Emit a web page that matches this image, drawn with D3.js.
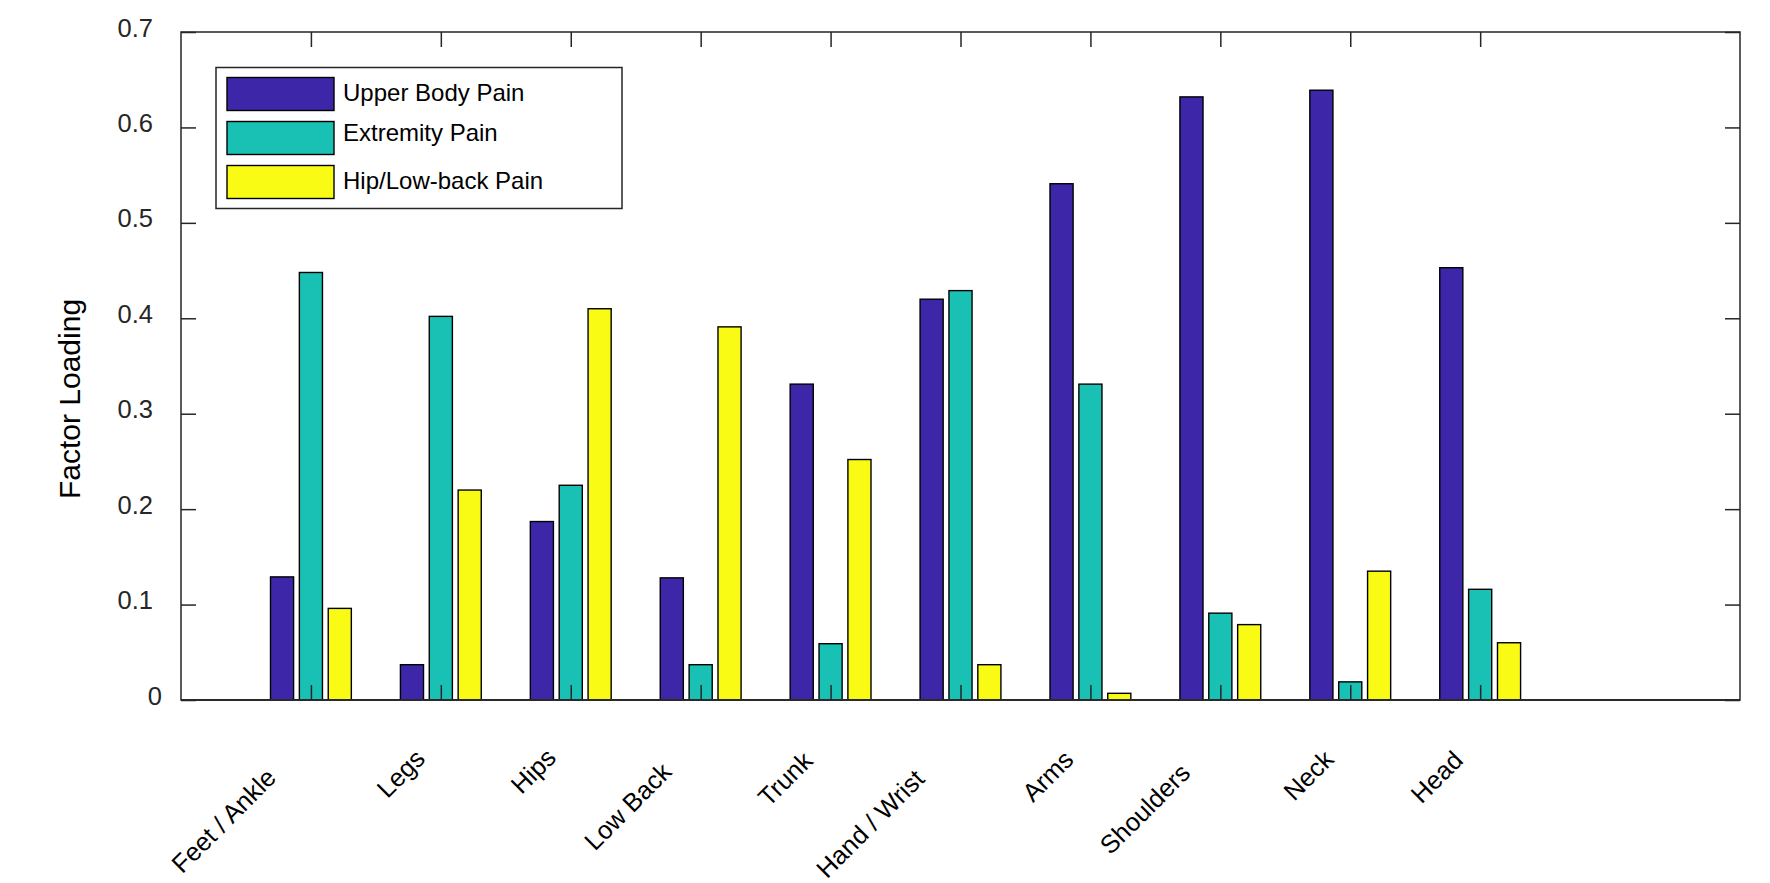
<!DOCTYPE html>
<html>
<head>
<meta charset="utf-8">
<script src="https://cdn.jsdelivr.net/npm/d3@7"></script>
<style>
  body { margin: 0; background: #fff; }
  svg { display: block; font-family: "Liberation Sans", Arial, Helvetica, sans-serif; }
</style>
</head>
<body>
<svg id="chart" width="1770" height="883"></svg>
<script>
// body regions along the x axis
const categories = ['Feet / Ankle', 'Legs', 'Hips', 'Low Back', 'Trunk', 'Hand / Wrist', 'Arms', 'Shoulders', 'Neck', 'Head'];
const seriesNames = ['Upper Body Pain', 'Extremity Pain', 'Hip/Low-back Pain'];
const seriesColors = ['#3e26a8', '#19c0b4', '#f9fb15'];

// factor loadings, one array per factor
const upperBody  = [0.129, 0.037, 0.187, 0.128, 0.331, 0.420, 0.541, 0.632, 0.639, 0.453];
const extremity  = [0.448, 0.402, 0.225, 0.037, 0.059, 0.429, 0.331, 0.091, 0.019, 0.116];
const hipLowBack = [0.096, 0.220, 0.410, 0.391, 0.252, 0.037, 0.007, 0.079, 0.135, 0.060];

const yTicks = [0, 0.1, 0.2, 0.3, 0.4, 0.5, 0.6, 0.7];
const yTickLabels = ['0', '0.1', '0.2', '0.3', '0.4', '0.5', '0.6', '0.7'];

const size = { width: 1770, height: 883 };
const plot = { left: 181, right: 1740, top: 32, bottom: 700 };
const axisColor = '#262626';
const tickLen = 15;

const svg = d3.select('#chart');

const x = d3.scaleLinear().domain([0, 12]).range([plot.left, plot.right]);
const y = d3.scaleLinear().domain([0, 0.7]).range([plot.bottom, plot.top]);

// grouped bars like matlab: group width 2/3 of a slot, bars 0.8 of their share
const unit = x(1) - x(0);
const groupW = Math.min(0.8, 3 / 4.5) * unit;
const inner = d3.scaleBand()
    .domain(d3.range(seriesNames.length))
    .range([-groupW / 2, groupW / 2])
    .paddingInner(0.2)
    .paddingOuter(0.1);

const rows = categories.map((c, i) => ({
    name: c,
    pos: i + 1,
    values: [upperBody[i], extremity[i], hipLowBack[i]]
}));

const groups = svg.append('g').selectAll('g')
    .data(rows)
    .enter()
    .append('g')
    .attr('transform', d => `translate(${x(d.pos)},0)`);

groups.selectAll('rect')
    .data(d => d.values)
    .enter()
    .append('rect')
    .attr('x', (v, j) => inner(j))
    .attr('width', inner.bandwidth())
    .attr('y', v => y(v))
    .attr('height', v => y(0) - y(v))
    .attr('fill', (v, j) => seriesColors[j])
    .attr('stroke', '#000')
    .attr('stroke-width', 1.4);

// bar baseline
svg.append('line')
    .attr('x1', plot.left).attr('x2', plot.right)
    .attr('y1', y(0)).attr('y2', y(0))
    .attr('stroke', '#3a3a3a')
    .attr('stroke-width', 2.2);

// axes box
svg.append('rect')
    .attr('x', plot.left).attr('y', plot.top)
    .attr('width', plot.right - plot.left)
    .attr('height', plot.bottom - plot.top)
    .attr('fill', 'none')
    .attr('stroke', axisColor)
    .attr('stroke-width', 1.5);

const styleAxis = g => {
    g.select('.domain').remove();
    g.selectAll('.tick line').attr('stroke', axisColor).attr('stroke-width', 1.5);
};

const yAxis = svg.append('g')
    .attr('transform', `translate(${plot.left},0)`)
    .call(d3.axisLeft(y).tickValues(yTicks).tickSize(-tickLen).tickPadding(28)
        .tickFormat((d, i) => yTickLabels[i]))
    .call(styleAxis);

yAxis.selectAll('.tick text')
    .attr('font-size', 25.5)
    .attr('font-family', '"Liberation Sans", Arial, Helvetica, sans-serif')
    .attr('fill', axisColor)
    .attr('dy', '0.16em')
    .attr('x', d => d === 0 ? -19 : -28);

svg.append('g')
    .attr('transform', `translate(${plot.right},0)`)
    .call(d3.axisRight(y).tickValues(yTicks).tickSize(-tickLen).tickFormat(''))
    .call(styleAxis);

svg.append('g')
    .attr('transform', `translate(0,${plot.bottom})`)
    .call(d3.axisBottom(x).tickValues(rows.map(d => d.pos)).tickSize(-tickLen).tickFormat(''))
    .call(styleAxis);

svg.append('g')
    .attr('transform', `translate(0,${plot.top})`)
    .call(d3.axisTop(x).tickValues(rows.map(d => d.pos)).tickSize(-tickLen).tickFormat(''))
    .call(styleAxis);

// rotated category labels; longer labels sit further down-left, as in the original
const xLabels = svg.append('g').selectAll('text')
    .data(rows)
    .enter()
    .append('text')
    .attr('font-size', 25.5)
    .attr('fill', '#000')
    .attr('text-anchor', 'end')
    .text(d => d.name);

xLabels.attr('transform', function (d) {
    const len = this.getComputedTextLength();
    const shift = 0.24 * len;
    return `translate(${x(d.pos) - 1 - shift},${plot.bottom + 47 + shift}) rotate(-45)`;
});

// y label
svg.append('text')
    .attr('transform', `translate(79.5,399) rotate(-90)`)
    .attr('text-anchor', 'middle')
    .attr('font-size', 30)
    .attr('fill', '#000')
    .text('Factor Loading');

// legend
const legendTextNudge = [0, -4, 0];
const legend = svg.append('g');
legend.append('rect')
    .attr('x', 216).attr('y', 67.5)
    .attr('width', 406).attr('height', 141)
    .attr('fill', '#fff')
    .attr('stroke', axisColor)
    .attr('stroke-width', 1.5);

const items = legend.selectAll('g.item')
    .data(seriesNames)
    .enter()
    .append('g')
    .attr('class', 'item')
    .attr('transform', (d, i) => `translate(227,${77.5 + i * 44})`);

items.append('rect')
    .attr('width', 107)
    .attr('height', 33)
    .attr('fill', (d, i) => seriesColors[i])
    .attr('stroke', '#000')
    .attr('stroke-width', 1.4);

items.append('text')
    .attr('x', 116)
    .attr('y', (d, i) => 23 + legendTextNudge[i])
    .attr('font-size', 24)
    .attr('fill', '#000')
    .text(d => d);
</script>
</body>
</html>
